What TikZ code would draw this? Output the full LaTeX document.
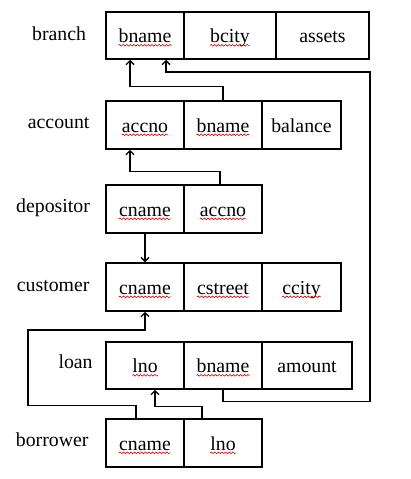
\documentclass[tikz,border=0pt]{standalone}
\usepackage{fontspec}
\setmainfont{Liberation Serif}
\usetikzlibrary{arrows.meta,decorations.pathmorphing}
\begin{document}
\begin{tikzpicture}[x=1pt,y=-1pt,
 cell/.style={draw, line width=1.5pt, inner sep=0pt},
 txt/.style={inner sep=0pt, text height=14pt, text depth=0pt, font=\fontsize{19.8}{23}\selectfont},
 lbl/.style={inner sep=0pt, anchor=base west, font=\fontsize{19.8}{23}\selectfont},
 conn/.style={line width=1.4pt},
 arr/.style={conn, -{Straight Barb[length=4pt,width=8pt]}},
 wave/.style={draw=red!80!black, line width=0.6pt, decorate, decoration={snake, amplitude=0.8pt, segment length=3.6pt}}]
\fill[white] (0,0) rectangle (410,479);
\useasboundingbox (0,0) rectangle (410,479);
% branch
\node[cell, minimum width=78pt, minimum height=47pt] (b1) at (145,35.5) {};
\node[cell, minimum width=92pt, minimum height=47pt] (b2) at (230,35.5) {};
\node[cell, minimum width=93pt, minimum height=47pt] (b3) at (322.5,35.5) {};
\node[txt] (b1t) at (b1) {bname};
\node[txt] (b2t) at (b2) {bcity};
\node[txt] (b3t) at (b3) {assets};
% account
\node[cell, minimum width=78pt, minimum height=48pt] (a1) at (145,125) {};
\node[cell, minimum width=78pt, minimum height=48pt] (a2) at (223,125) {};
\node[cell, minimum width=79pt, minimum height=48pt] (a3) at (301.5,125) {};
\node[txt] (a1t) at (a1) {accno};
\node[txt] (a2t) at (a2) {bname};
\node[txt] (a3t) at (a3) {balance};
% depositor
\node[cell, minimum width=78pt, minimum height=48pt] (d1) at (145,209) {};
\node[cell, minimum width=78pt, minimum height=48pt] (d2) at (223,209) {};
\node[txt] (d1t) at (d1) {cname};
\node[txt] (d2t) at (d2) {accno};
% customer
\node[cell, minimum width=78pt, minimum height=48pt] (c1) at (145,287) {};
\node[cell, minimum width=78pt, minimum height=48pt] (c2) at (223,287) {};
\node[cell, minimum width=79pt, minimum height=48pt] (c3) at (301.5,287) {};
\node[txt] (c1t) at (c1) {cname};
\node[txt] (c2t) at (c2) {cstreet};
\node[txt] (c3t) at (c3) {ccity};
% loan
\node[cell, minimum width=78pt, minimum height=47pt] (l1) at (145,365.5) {};
\node[cell, minimum width=78pt, minimum height=47pt] (l2) at (223,365.5) {};
\node[cell, minimum width=90pt, minimum height=47pt] (l3) at (307,365.5) {};
\node[txt] (l1t) at (l1) {lno};
\node[txt] (l2t) at (l2) {bname};
\node[txt] (l3t) at (l3) {amount};
% borrower
\node[cell, minimum width=78pt, minimum height=48pt] (w1) at (145,443) {};
\node[cell, minimum width=78pt, minimum height=48pt] (w2) at (223,443) {};
\node[txt] (w1t) at (w1) {cname};
\node[txt] (w2t) at (w2) {lno};
% labels
\node[lbl] (Lb) at (32,40) {branch};
\node[lbl] (La) at (27.7,128.5) {account};
\node[lbl] (Ld) at (16,212.5) {depositor};
\node[lbl] (Lc) at (16.7,291) {customer};
\node[lbl] (Ll) at (58.3,368.3) {loan};
\node[lbl] (Lw) at (15.7,446) {borrower};
% spell-check waves
\foreach \n in {b1t,b2t,a1t,a2t,d1t,d2t,c1t,c2t,c3t,l1t,l2t,w1t,w2t}
  \draw[wave] ([yshift=-2.8pt]\n.base west) -- ([yshift=-2.8pt]\n.base east);
% connectors
\coordinate (rt) at (370,72);
\coordinate (lf) at (28,330);
\draw[arr] (a2.north) -- ++(0,-14) -| ([xshift=-15pt]b1.south);
\draw[arr] (l2.south) -- ++(0,12) -| (rt) -| ([xshift=21pt]b1.south);
\draw[arr] ([xshift=-3pt]d2.north) -- ++(0,-13) -| ([xshift=-15pt]a1.south);
\draw[arr] (d1.south) -- (c1.north);
\draw[arr] ([xshift=-9pt]w1.north) -- ++(0,-13) -| (lf) -| (c1.south);
\draw[arr] ([xshift=-21pt]w2.north) -- ++(0,-12) -| ([xshift=10pt]l1.south);
\end{tikzpicture}
\end{document}
